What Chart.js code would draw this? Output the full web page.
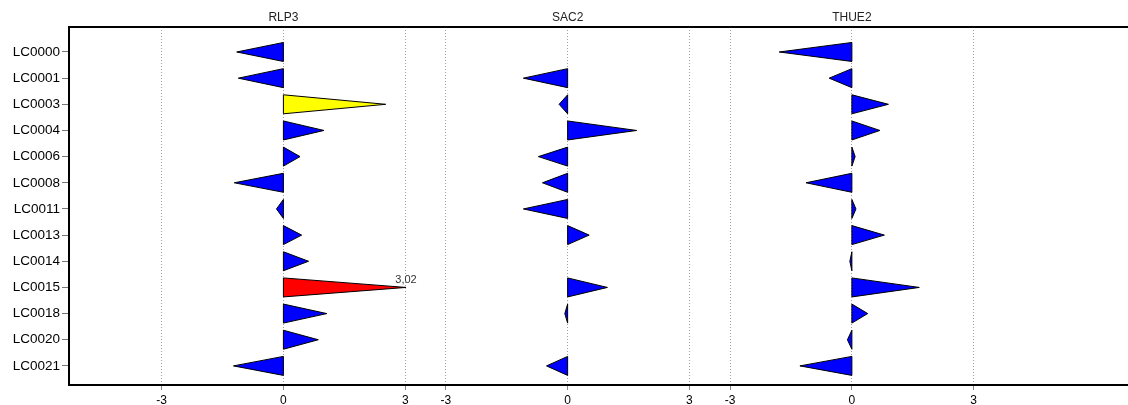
<!DOCTYPE html>
<html>
<head>
<meta charset="utf-8">
<script src="https://cdn.jsdelivr.net/npm/chart.js@4/dist/chart.umd.min.js"></script>
<style>
  html, body { margin: 0; padding: 0; background: #fff; }
  #wrap { width: 1128px; height: 405px; }
</style>
</head>
<body>
<div id="wrap"><canvas id="myChart1"></canvas></div>
<script>
let rows = ['LC0000','LC0001','LC0003','LC0004','LC0006','LC0008','LC0011','LC0013','LC0014','LC0015','LC0018','LC0020','LC0021'];
let panels = ['RLP3', 'SAC2', 'THUE2'];
let rlp3  = [-1.15, -1.11, 2.52, 1.00, 0.41, -1.21, -0.17, 0.45, 0.62, 3.02, 1.07, 0.86, -1.23];
let sac2  = [null, -1.09, -0.21, 1.70, -0.72, -0.62, -1.09, 0.53, null, 0.98, -0.07, null, -0.52];
let thue2 = [-1.79, -0.56, 0.90, 0.69, 0.08, -1.13, 0.10, 0.80, -0.05, 1.66, 0.39, -0.11, -1.28];
let panelTicks = [-3, 0, 3];
let panelStep = 7;   // each panel is 7 units wide on the shared x axis

// RLP3 has two highlighted rows, the red one carries the value label
let rlp3Colors = rlp3.map((v, i) => i === 2 ? '#ffff00' : (i === 9 ? '#ff0000' : '#0000ff'));
let labelRow = 9;

let series = [rlp3, sac2, thue2];
let xTicks = [];
panels.forEach((p, k) => panelTicks.forEach(t => xTicks.push(k * panelStep + t)));

let datasets = series.map((vals, k) => ({
  label: panels[k],
  data: vals.map((v, i) => ({ x: v === null ? null : [k * panelStep, k * panelStep + v], y: i })),
  backgroundColor: k === 0 ? rlp3Colors : '#0000ff',
  borderWidth: 0
}));

// draw each bar as a wedge: flat side on the panel's zero line, point at the value
const wedges = {
  id: 'wedges',
  beforeDatasetDraw(chart, args) {
    let ctx = chart.ctx;
    let xs = chart.scales.x;
    let pts = chart.data.datasets[args.index].data;
    args.meta.data.forEach((el, i) => {
      let range = pts[i].x;
      if (!range) return;
      let zero = xs.getPixelForValue(range[0]);
      let tip = xs.getPixelForValue(range[1]);
      const {y, height} = el.getProps(['y', 'height'], true);
      ctx.save();
      ctx.beginPath();
      ctx.moveTo(zero, y - height / 2);
      ctx.lineTo(tip, y);
      ctx.lineTo(zero, y + height / 2);
      ctx.closePath();
      ctx.fillStyle = el.options.backgroundColor;
      ctx.fill();
      ctx.lineWidth = 1;
      ctx.strokeStyle = '#000';
      ctx.stroke();
      ctx.restore();
    });
    return false;
  },
  afterDatasetsDraw(chart) {
    let el = chart.getDatasetMeta(0).data[labelRow];
    let tip = chart.scales.x.getPixelForValue(rlp3[labelRow]);
    let ctx = chart.ctx;
    ctx.save();
    ctx.font = '11px "Liberation Sans"';
    ctx.fillStyle = '#333';
    ctx.textAlign = 'center';
    ctx.textBaseline = 'bottom';
    ctx.fillText(rlp3[labelRow].toFixed(2).replace('.', ','), tip, el.y - 2);
    ctx.restore();
  }
};

let ctx = document.getElementById('myChart1').getContext('2d');
let myChart1 = new Chart(ctx, {
  type: 'bar',
  data: { datasets: datasets },
  plugins: [wedges],
  options: {
    indexAxis: 'y',
    responsive: true,
    maintainAspectRatio: false,
    animation: false,
    layout: { padding: 0 },
    datasets: { bar: { grouped: false, barThickness: 19 } },
    plugins: { legend: { display: false }, tooltip: { enabled: false } },
    scales: {
      x: {
        type: 'linear',
        position: 'bottom',
        min: -5.28,
        max: 20.8,
        afterBuildTicks: s => { s.ticks = xTicks.map(v => ({ value: v })); },
        afterFit: s => { s.height = 20; },
        ticks: {
          autoSkip: false,
          maxRotation: 0,
          padding: 3,
          color: '#000',
          font: { family: 'Liberation Sans', size: 12 },
          callback: v => {
            let k = Math.round(v / panelStep);
            return String(Math.round(v - k * panelStep));
          }
        },
        grid: { color: '#a0a0a0', lineWidth: 1, tickLength: 5, tickColor: '#888' },
        border: { color: '#000', width: 2, dash: [1, 2] }
      },
      x2: {
        type: 'linear',
        position: 'top',
        min: -5.28,
        max: 20.8,
        afterBuildTicks: s => { s.ticks = panels.map((p, k) => ({ value: k * panelStep })); },
        afterFit: s => { s.height = 27; },
        ticks: {
          autoSkip: false,
          maxRotation: 0,
          padding: -6,
          color: '#222',
          font: { family: 'Liberation Sans', size: 12 },
          callback: v => panels[Math.round(v / panelStep)]
        },
        grid: { display: false },
        border: { color: '#000', width: 2 }
      },
      y: {
        type: 'linear',
        reverse: true,
        offset: false,
        min: -0.955,
        max: 12.73,
        afterBuildTicks: s => { s.ticks = rows.map((r, i) => ({ value: i })); },
        afterFit: s => { s.width = 69; },
        ticks: {
          autoSkip: false,
          padding: 2,
          color: '#000',
          font: { family: 'Liberation Sans', size: 13.5 },
          callback: v => rows[v]
        },
        grid: { offset: false, drawOnChartArea: false, tickLength: 7, tickColor: '#777' },
        border: { color: '#000', width: 2 }
      }
    }
  }
});
</script>
</body>
</html>
